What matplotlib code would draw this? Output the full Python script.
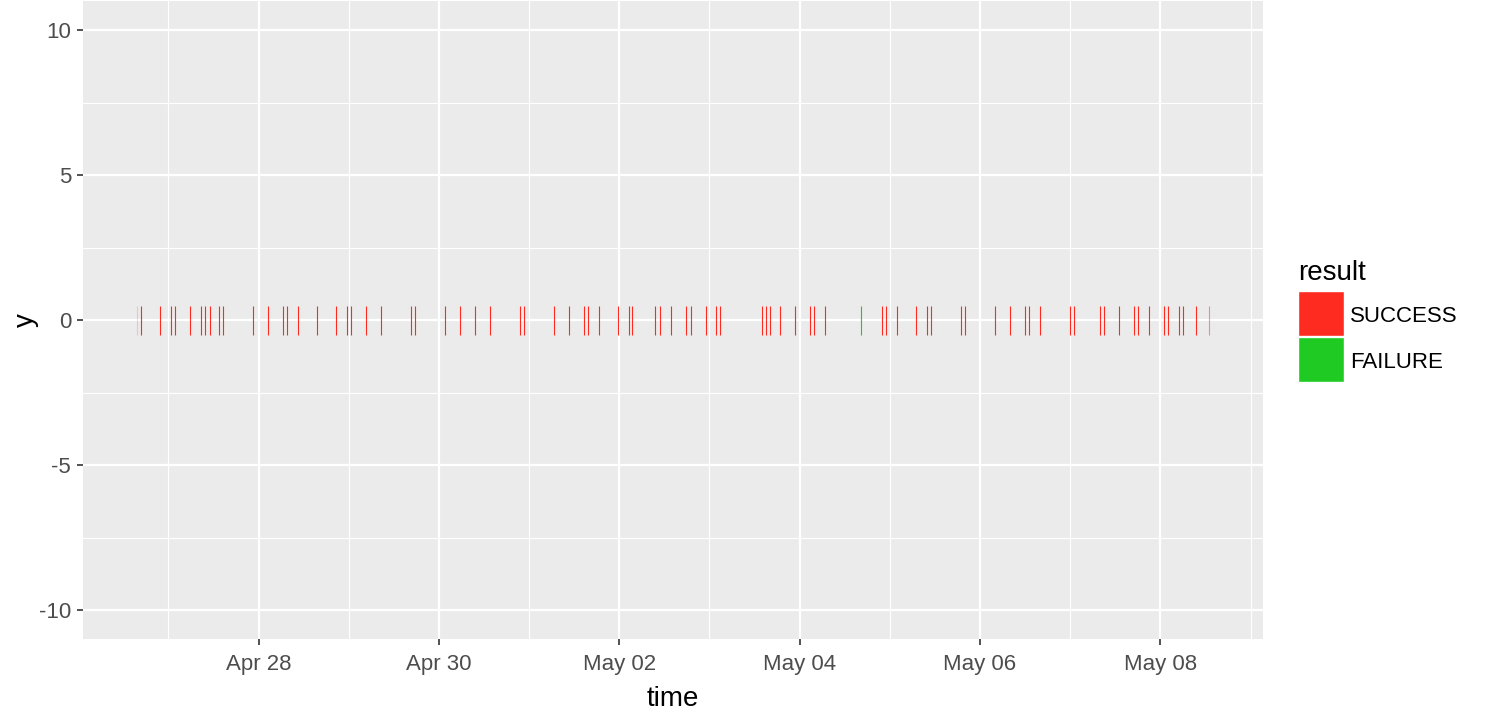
import matplotlib
matplotlib.use("Agg")
import matplotlib.pyplot as plt
import matplotlib.dates as mdates
from matplotlib.patches import Rectangle
import numpy as np
import pandas as pd

# event times, hours after start
start = pd.Timestamp("2016-04-28 00:00")
hours = [-32.46, -31.40, -26.34, -23.42, -22.35, -18.36, -15.43, -14.37,
         -13.04, -10.64, -9.58, -1.60, 2.39, 6.39, 7.45, 10.38, 15.43,
         20.49, 23.42, 24.48, 28.47, 32.46, 40.44, 41.51, 49.49, 53.48,
         57.47, 61.46, 69.45, 70.51, 78.49, 82.48, 86.48, 87.54, 90.47,
         95.52, 98.45, 99.51, 105.63, 106.70, 109.63, 113.88, 114.95,
         118.94, 121.86, 122.93, 134.10, 135.17, 136.23, 138.89, 142.88,
         146.88, 147.94, 150.87, 160.44, 166.03, 167.10, 170.03, 175.08,
         178.01, 179.07, 187.05, 188.12, 196.10, 200.09, 204.08, 205.15,
         208.07, 216.06, 217.12, 224.04, 225.11, 229.10, 233.08, 234.15,
         237.08, 241.07, 242.13, 245.06, 246.12, 249.58, 253.04]
failure_hours = [160.44]
faded = {-32.46: 0.2, 253.04: 0.5}

results = ["FAILURE" if h in failure_hours else "SUCCESS" for h in hours]
levels = ["SUCCESS", "FAILURE"]
palette = {"SUCCESS": "#FE2B20", "FAILURE": "#1FCB23"}

times = [start + pd.Timedelta(hours=h) for h in hours]

W, H = 1488, 718
fig = plt.figure(figsize=(W / 100, H / 100), dpi=100)
plt.rcParams['font.family'] = ['Liberation Sans', 'DejaVu Sans']


def px(x0, y0, x1, y1):
    # pixel box (top-left origin) -> figure fraction rect
    return [x0 / W, 1 - y1 / H, (x1 - x0) / W, (y1 - y0) / H]


ax = fig.add_axes(px(83, 1, 1263, 639))
ax.set_facecolor("#EBEBEB")
for s in ax.spines.values():
    s.set_visible(False)

for t, r, h in zip(times, results, hours):
    ax.vlines(mdates.date2num(t), -0.5, 0.5, color=palette[r],
              alpha=faded.get(h, 1.0), linewidth=0.8, zorder=3)

tnum = mdates.date2num(times)
span = tnum.max() - tnum.min()
ax.set_xlim(tnum.min() - 0.05 * span, tnum.max() + 0.05 * span)
ax.set_ylim(-11, 11)

ax.set_yticks([-10, -5, 0, 5, 10])
ax.set_yticks([-7.5, -2.5, 2.5, 7.5], minor=True)
ax.set_yticklabels(["-10", "-5", "0", "5", "10"])
ax.xaxis.set_major_locator(mdates.DayLocator(bymonthday=list(range(2, 31, 2))))
ax.xaxis.set_minor_locator(mdates.DayLocator(bymonthday=list(range(1, 32, 2))))
ax.xaxis.set_major_formatter(mdates.DateFormatter("%b %d"))

ax.grid(which="major", color="white", linewidth=1.6)
ax.grid(which="minor", color="white", linewidth=0.8)
ax.set_axisbelow(True)
ax.tick_params(which="major", length=4.5, width=1.2, color="#333333",
               labelcolor="#4D4D4D", labelsize=16, pad=4)
ax.tick_params(axis="x", which="major", pad=6)
ax.tick_params(which="minor", length=0)

ax.set_xlabel("time", fontsize=20, labelpad=8)
ax.set_ylabel("y", fontsize=20, labelpad=0)

# legend
fig.text(1298 / W, 1 - 280 / H, "result", fontsize=20, ha="left",
         va="baseline")
for i, lv in enumerate(levels):
    y0 = 291 + i * 46
    fig.add_artist(Rectangle((1298 / W, 1 - (y0 + 45) / H), 46 / W, 45 / H,
                             transform=fig.transFigure,
                             facecolor=palette[lv], edgecolor="white",
                             linewidth=1))
    fig.text(1350 / W, 1 - (y0 + 25) / H, lv, fontsize=16, ha="left",
             va="center")

fig.savefig("out.png", dpi=100)
